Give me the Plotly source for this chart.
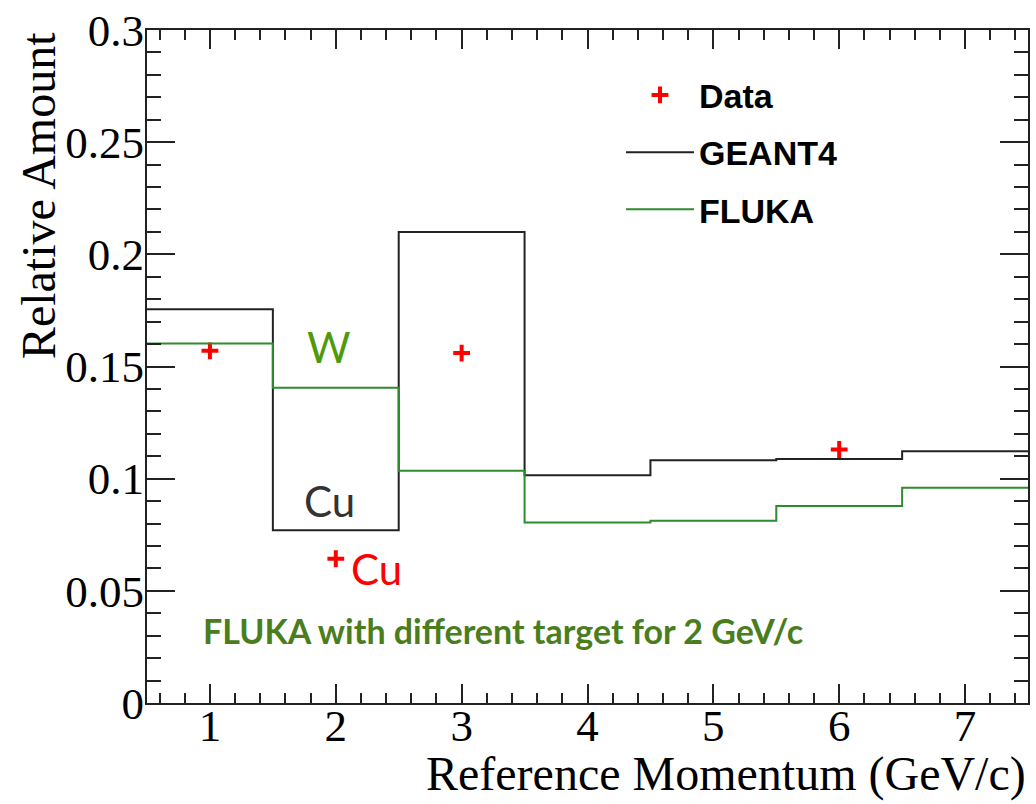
import plotly.graph_objects as go

# ---- data ----
bin_edges = [0.5, 1.5, 2.5, 3.5, 4.5, 5.5, 6.5, 7.5]
geant4_vals = [0.1755, 0.0770, 0.2100, 0.1015, 0.1082, 0.1088, 0.1122]
fluka_vals = [0.1602, 0.1405, 0.1035, 0.0805, 0.0812, 0.0878, 0.0960]
data_x = [1, 2, 3, 6]
data_y = [0.1570, 0.0643, 0.1560, 0.1130]

x_tick_vals = [1, 2, 3, 4, 5, 6, 7]
y_tick_vals = [0, 0.05, 0.1, 0.15, 0.2, 0.25, 0.3]
y_tick_text = ["0", "0.05", "0.1", "0.15", "0.2", "0.25", "0.3"]

x_title = "Reference Momentum (GeV/c)"
y_title = "Relative Amount"

fig = go.Figure()

fig.add_trace(go.Scatter(
    x=data_x, y=data_y, mode="markers", name="Data",
    marker=dict(symbol="cross-thin", size=12, color="red",
                line=dict(color="red", width=4)),
    legendgroup="a",
))
fig.add_trace(go.Scatter(
    x=bin_edges, y=geant4_vals + [geant4_vals[-1]], mode="lines", name="GEANT4",
    line=dict(shape="hv", color="#222222", width=2),
    legendgroup="b",
))
fig.add_trace(go.Scatter(
    x=bin_edges, y=fluka_vals + [fluka_vals[-1]], mode="lines", name="FLUKA",
    line=dict(shape="hv", color="#2e8b2e", width=2),
    legendgroup="c",
))

axis_common = dict(
    showline=True, linecolor="#222222", linewidth=2,
    mirror="allticks", ticks="inside", tickcolor="#222222", tickwidth=2,
    showgrid=False, zeroline=False, ticklabeloverflow="allow",
    tickfont=dict(family="Liberation Serif", size=45, color="black"),
)

fig.update_xaxes(
    range=[0.5, 7.5], tickvals=x_tick_vals, ticklen=19,
    minor=dict(ticks="inside", dtick=0.2, ticklen=10, tickcolor="#222222", tickwidth=2, showgrid=False),
    ticklabelstandoff=-18,
    **axis_common,
)
fig.update_yaxes(
    range=[0, 0.3], tickvals=y_tick_vals, ticktext=y_tick_text, ticklen=28,
    minor=dict(ticks="inside", dtick=0.01, ticklen=14, tickcolor="#222222", tickwidth=2, showgrid=False),
    ticklabelstandoff=-8,
    **axis_common,
)

annotations = [
    dict(text=x_title, xref="paper", yref="paper", x=1.0, y=-0.106, xanchor="right", yanchor="middle",
         showarrow=False, font=dict(family="Liberation Serif", size=48, color="black")),
    dict(text=y_title, xref="paper", yref="paper", x=-0.123, y=1.0, xanchor="center", yanchor="top",
         textangle=-90, showarrow=False, font=dict(family="Liberation Serif", size=48, color="black")),
    dict(text="W", x=1.95, y=0.1585, xref="x", yref="y", showarrow=False,
         font=dict(family="Lato", size=42, color="#4f9a0a")),
    dict(text="Cu", x=1.95, y=0.0900, xref="x", yref="y", showarrow=False,
         font=dict(family="Lato", size=42, color="#333333")),
    dict(text="Cu", x=2.32, y=0.0598, xref="x", yref="y", showarrow=False,
         font=dict(family="Lato", size=42, color="red")),
    dict(text="<b>FLUKA with different target for 2 GeV/c</b>", x=0.93, y=0.0325, xref="x", yref="y",
         xanchor="left", showarrow=False,
         font=dict(family="Lato", size=34, color="#4a7d1c")),
]

fig.update_layout(
    width=1036, height=804,
    margin=dict(l=147, r=6, t=24, b=101),
    plot_bgcolor="white", paper_bgcolor="white",
    showlegend=True,
    legend=dict(
        x=0.538, y=0.946, xanchor="left", yanchor="top",
        bgcolor="rgba(0,0,0,0)", borderwidth=0,
        font=dict(family="Liberation Sans", size=34, color="black", weight="bold"),
        traceorder="grouped", tracegroupgap=10, itemwidth=68,
    ),
    annotations=annotations,
)

fig.write_html("out.html")
